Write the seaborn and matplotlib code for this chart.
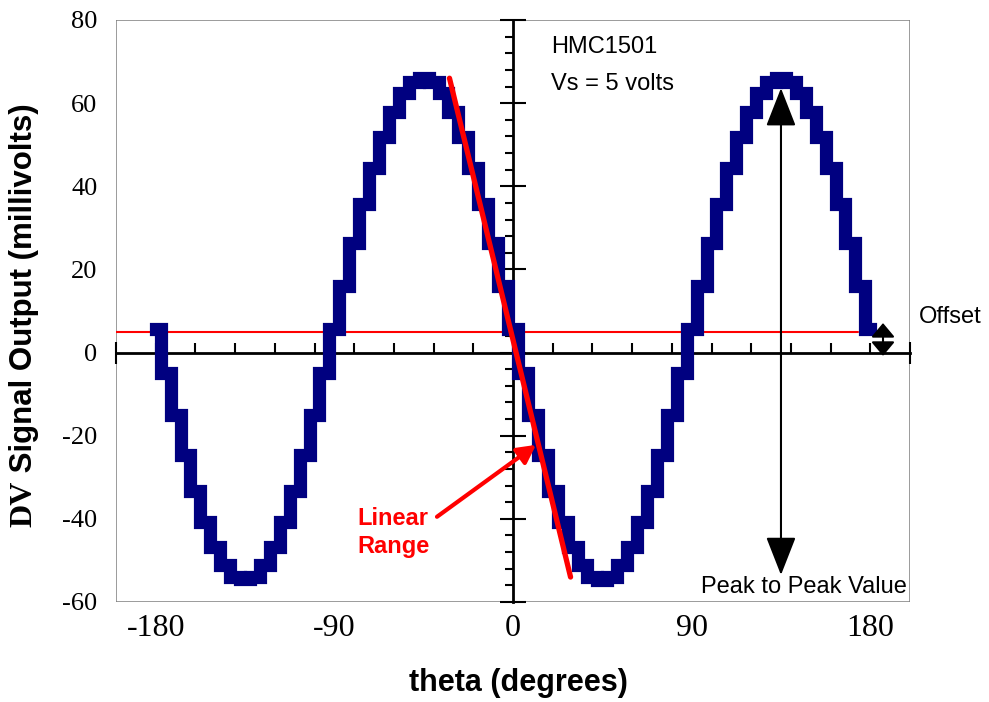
import matplotlib
matplotlib.use("Agg")
import matplotlib.pyplot as plt
from matplotlib.patches import Rectangle
from matplotlib.ticker import FixedLocator, MultipleLocator
import pandas as pd
import seaborn as sns

# quantised angle readings: one column per 5-degree encoder step
theta_start, theta_end = -180, 180
theta_cols = [
    -177.5, -172.5, -167.5, -162.5, -157.5, -152.5, -147.5, -142.5, -137.5,
    -132.5, -127.5, -122.5, -117.5, -112.5, -107.5, -102.5, -97.5, -92.5,
    -87.5, -82.5, -77.5, -72.5, -67.5, -62.5, -57.5, -52.5, -47.5, -42.5,
    -37.5, -32.5, -27.5, -22.5, -17.5, -12.5, -7.5, -2.5, 2.5, 7.5, 12.5,
    17.5, 22.5, 27.5, 32.5, 37.5, 42.5, 47.5, 52.5, 57.5, 62.5, 67.5, 72.5,
    77.5, 82.5, 87.5, 92.5, 97.5, 102.5, 107.5, 112.5, 117.5, 122.5, 127.5,
    132.5, 137.5, 142.5, 147.5, 152.5, 157.5, 162.5, 167.5, 172.5, 177.5,
]
# signal (mV) at each step edge, -180 .. 180 every 5 degrees
dv_edges = [
    5.6, -4.9, -15.1, -24.6, -33.2, -40.7, -46.7, -51.2, -53.9, -54.5,
    -53.9, -51.2, -46.7, -40.7, -33.2, -24.6, -15.1, -4.9, 5.6, 16.1,
    26.3, 35.8, 44.4, 51.9, 57.9, 62.4, 65.1, 66.0, 65.1, 62.4,
    57.9, 51.9, 44.4, 35.8, 26.3, 16.1, 5.6, -4.9, -15.1, -24.6,
    -33.2, -40.7, -46.7, -51.2, -53.9, -54.8, -53.9, -51.2, -46.7, -40.7,
    -33.2, -24.6, -15.1, -4.9, 5.6, 16.1, 26.3, 35.8, 44.4, 51.9,
    57.9, 62.4, 65.1, 66.0, 65.1, 62.4, 57.9, 51.9, 44.4, 35.8,
    26.3, 16.1, 5.6,
]

offset_mv = 5
offset_end_theta = 174
fit_theta = [-32, 29]
fit_mv = [66, -54]
peak_theta = 135
peak_mv = [63.6, -53.5]
offset_arrow_theta = 186.4
offset_arrow_mv = [7.1, -0.8]
linear_arrow_tail = (-38.3, -39.5)
linear_arrow_tip = (11.6, -22.2)

x_ticks = [-180, -90, 0, 90, 180]
y_ticks = [-60, -40, -20, 0, 20, 40, 60, 80]
XLIM, YLIM = (-200, 200), (-60, 80)

# build the reading sequence: each step column has an entry and exit value
theta = [theta_start] + [t for t in theta_cols for _ in (0, 1)] + [theta_end]
mv = ([dv_edges[0]]
      + [v for pair in zip(dv_edges[:-1], dv_edges[1:]) for v in pair]
      + [dv_edges[-1]])
df = pd.DataFrame({"theta": theta, "mv": mv})

sns.set_style("white")
plt.rcParams["font.family"] = ["Liberation Sans", "DejaVu Sans"]
plt.rcParams.update({"text.color": "black", "axes.labelcolor": "black",
                     "xtick.color": "black", "ytick.color": "black"})

NAVY = "#000080"
RED = "#ff0000"
pos = [116 / 989, 1 - 602 / 702, 794 / 989, 582 / 702]

fig = plt.figure(figsize=(9.89, 7.02), dpi=100)

# background axes: grey frame + outer tick labels
axf = fig.add_axes(pos)
axf.set_xlim(*XLIM)
axf.set_ylim(*YLIM)
for s in axf.spines.values():
    s.set_visible(False)
axf.add_patch(Rectangle((0, 0), 1, 1, transform=axf.transAxes, fill=False,
                        ec="#808080", lw=1.1, zorder=1))
axf.set_xticks(x_ticks)
axf.set_yticks(y_ticks)
axf.set_xticklabels([str(v) for v in x_ticks], family="Liberation Serif", fontsize=23)
axf.set_yticklabels([str(v) for v in y_ticks], family="Liberation Serif", fontsize=19)
axf.tick_params(axis="x", length=0, pad=9, bottom=True, labelcolor="black")
axf.tick_params(axis="y", length=0, pad=13.5, left=True, labelcolor="black")
axf.grid(False)

# data axes with crossing axes at zero
ax = fig.add_axes(pos)
ax.patch.set_alpha(0)
ax.spines["top"].set_visible(False)
ax.spines["right"].set_visible(False)
ax.spines["left"].set_position(("data", 0))
ax.spines["bottom"].set_position(("data", 0))
for s in ("left", "bottom"):
    ax.spines[s].set_linewidth(2)
    ax.spines[s].set_color("black")
    ax.spines[s].set_zorder(2.5)

# offset reference line
ax.plot([XLIM[0], offset_end_theta], [offset_mv, offset_mv], color=RED, lw=1.5, zorder=2)

sns.lineplot(data=df, x="theta", y="mv", sort=False, estimator=None, color=NAVY,
             lw=9.5, solid_joinstyle="miter", solid_capstyle="projecting",
             ax=ax, zorder=3)

# linear range fit
ax.plot(fit_theta, fit_mv, color=RED, lw=3.8, solid_capstyle="round", zorder=4)

ax.set_xlim(*XLIM)
ax.set_ylim(*YLIM)
ax.set_xlabel("")
ax.set_ylabel("")
ax.xaxis.set_major_locator(FixedLocator([XLIM[0], XLIM[1]]))
ax.xaxis.set_minor_locator(MultipleLocator(20))
ax.yaxis.set_major_locator(MultipleLocator(20))
ax.yaxis.set_minor_locator(MultipleLocator(4))
ax.tick_params(axis="x", which="major", direction="inout", length=16, width=1.5,
               bottom=True, labelbottom=False, color="black")
ax.tick_params(axis="x", which="minor", direction="in", length=7, width=1.5,
               bottom=True, color="black")
ax.tick_params(axis="y", which="major", direction="inout", length=19, width=1.5,
               left=True, labelleft=False, color="black")
ax.tick_params(axis="y", which="minor", direction="out", length=6, width=1.5,
               left=True, color="black")

# peak-to-peak arrow
ax.annotate("", xy=(peak_theta, peak_mv[0]), xytext=(peak_theta, peak_mv[1]),
            arrowprops=dict(arrowstyle="<|-|>,head_length=24,head_width=9.4",
                            mutation_scale=1, lw=1.5, color="black",
                            shrinkA=0, shrinkB=0), zorder=5)
# offset arrow
ax.annotate("", xy=(offset_arrow_theta, offset_arrow_mv[0]),
            xytext=(offset_arrow_theta, offset_arrow_mv[1]),
            arrowprops=dict(arrowstyle="<|-|>,head_length=8.6,head_width=7.2",
                            mutation_scale=1, lw=1.5, color="black",
                            shrinkA=0, shrinkB=0), zorder=5, annotation_clip=False)
# linear range arrow
ax.annotate("", xy=linear_arrow_tip, xytext=linear_arrow_tail,
            arrowprops=dict(arrowstyle="-|>,head_length=11,head_width=5.8",
                            mutation_scale=1, lw=3, color=RED,
                            shrinkA=0, shrinkB=0), zorder=5)

ax.text(19.1, 72.1, "HMC1501", fontsize=17, va="baseline", ha="left")
ax.text(19.1, 63.2, "Vs = 5 volts", fontsize=17, va="baseline", ha="left")
ax.text(204.5, 7.1, "Offset", fontsize=17, va="baseline", ha="left", clip_on=False)
ax.text(198.5, -57.8, "Peak to Peak Value", fontsize=17, va="baseline", ha="right")
ax.text(-78.6, -41.5, "Linear", fontsize=17, fontweight="bold", color=RED,
        va="baseline", ha="left")
ax.text(-78.6, -48.2, "Range", fontsize=17, fontweight="bold", color=RED,
        va="baseline", ha="left")

# axis titles
fig.text(518 / 989, 1 - 683 / 702, "theta (degrees)", fontsize=22,
         fontweight="bold", ha="center", va="center")
t1 = fig.text(24 / 989, 1 - 527 / 702, "DV", family="Liberation Serif",
              fontsize=23, fontweight="bold", rotation=90, ha="center", va="bottom")
ax.annotate(" Signal Output (millivolts)", xy=(0.5, 1.0), xycoords=t1,
            fontsize=22.5, fontweight="bold", rotation=90, ha="center", va="bottom",
            annotation_clip=False)

fig.savefig("out.png", dpi=100)
